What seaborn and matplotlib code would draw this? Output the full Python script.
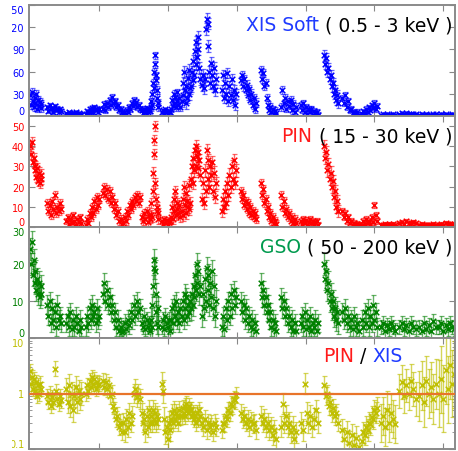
import numpy as np
import pandas as pd
import matplotlib
matplotlib.use("Agg")
import matplotlib.pyplot as plt
import seaborn as sns
from matplotlib.patches import Rectangle

# observation windows (time, arbitrary units)
seg_start = [0.00, 0.24, 0.52, 0.81, 1.05, 1.35, 1.62, 1.75, 1.91, 2.05, 2.20, 2.34, 2.49,
             2.78, 3.06, 3.35, 3.64, 3.93, 4.27, 4.53, 4.82, 5.09, 5.36, 5.65, 5.94]
seg_end = [0.16, 0.45, 0.74, 1.00, 1.33, 1.59, 1.74, 1.86, 2.03, 2.17, 2.32, 2.46, 2.70,
           2.99, 3.28, 3.57, 3.86, 4.18, 4.47, 4.77, 5.04, 5.30, 5.60, 5.89, 6.16]

# XIS soft (0.5 - 3 keV) count rate per window
xis_rate = [
    [28, 15, 33, 20, 12, 25, 18, 30, 10, 22, 14, 19, 11, 16],
    [12, 7, 15, 9, 11, 6, 13, 8, 10, 5, 9, 7],
    [4, 2, 5, 3, 4, 1.5, 3.5, 5, 2.5, 4, 3, 2],
    [3, 7, 4, 9, 5, 11, 6, 12, 8, 10, 5, 9],
    [10, 16, 8, 18, 12, 22, 15, 26, 18, 20, 12, 15, 8, 10, 6],
    [2, 5, 3, 8, 6, 12, 10, 18, 14, 22, 16, 19, 12, 15, 10],
    [8, 4, 10, 6, 11, 5, 9, 7],
    [12, 20, 15, 30, 45, 38, 60, 82, 70, 55, 48, 35, 25, 18, 12],
    [5, 8, 4, 9, 6, 3, 7, 5],
    [10, 22, 14, 30, 18, 26, 12, 32, 20, 15, 24, 12],
    [20, 45, 28, 60, 35, 18, 40, 25, 52, 30, 62, 38],
    [40, 60, 48, 75, 55, 88, 70, 100, 80, 107, 90, 65, 50],
    [42, 55, 38, 50, 118, 131, 95, 125, 60, 45, 72, 55, 40, 65, 35, 50],
    [35, 55, 25, 45, 30, 58, 20, 40, 28, 50, 22, 35, 15, 30],
    [48, 55, 40, 50, 35, 42, 28, 36, 22, 30, 15, 24, 10, 18],
    [62, 50, 58, 40, 45, 25, 15, 8, 12, 5, 9, 3, 7, 4],
    [12, 35, 18, 25, 10, 20, 14, 22, 8, 16, 6, 12],
    [15, 8, 18, 5, 12, 3, 9, 6, 10, 2, 7, 4, 6, 1.5],
    [82, 70, 78, 60, 65, 50, 55, 40, 45, 30, 35, 22, 28, 18],
    [25, 18, 28, 12, 20, 8, 10, 4, 6, 3, 5, 2],
    [3, 7, 4, 10, 6, 12, 8, 15, 11, 18, 9, 14],
    [1.5, 2.5, 1.2, 2.8, 2, 1.6, 2.4, 1.8],
    [2.5, 3.5, 2.2, 3.8, 3, 2.4, 3.2, 2.6],
    [1.8, 2.6, 1.4, 2.4, 2, 1.6, 2.8, 2.1],
    [1.6, 2.4, 1.3, 2.8, 2.0, 1.5, 2.5, 1.8],
]
xis_err = [5, 3, 1.5, 3, 4, 4, 3, 5, 2, 5, 8, 8, 8, 7, 6, 5, 5, 4, 7, 4, 3, 1, 1, 1, 1]

# PIN (15 - 30 keV)
pin_rate = [
    [40, 36, 42, 32, 34, 28, 30, 25, 29, 23, 27, 22, 26, 24],
    [12, 8, 11, 6, 13, 9, 16, 7, 10, 8, 12, 9],
    [3, 5, 1.5, 4, 2, 6, 3, 1, 4, 2.5, 5, 2],
    [1, 4, 2, 7, 5, 10, 7, 13, 9, 15, 11, 14],
    [17, 20, 16, 19, 14, 18, 12, 15, 9, 12, 6, 8, 3, 4, 1],
    [2, 5, 3, 8, 6, 11, 9, 13, 11, 15, 13, 16, 12, 15],
    [5, 3, 7, 4, 8, 2.5, 6, 4],
    [6, 12, 5, 18, 27, 36, 43, 50, 22, 14, 8, 10, 4, 7],
    [3, 1.5, 4, 2, 3.5, 1, 2.5, 3],
    [5, 10, 4, 14, 8, 18, 6, 12, 9, 7, 11, 5],
    [8, 14, 6, 20, 11, 17, 7, 13, 10, 21, 9, 12],
    [24, 30, 22, 34, 28, 38, 30, 40, 35, 37, 29, 33, 26],
    [14, 22, 12, 28, 18, 38, 24, 33, 20, 30, 26, 32, 18, 27, 15, 22],
    [8, 14, 10, 18, 12, 22, 16, 26, 20, 30, 24, 33, 22, 28],
    [18, 14, 16, 11, 13, 9, 12, 7, 10, 6, 8, 5, 7, 4],
    [22, 16, 19, 12, 14, 8, 10, 5, 7, 3, 5, 2, 3, 1.5],
    [16, 10, 13, 7, 9, 5, 7, 3, 5, 2, 4, 2],
    [3, 1.5, 4, 2, 3.5, 1, 2.5, 4, 2, 3, 1.5, 2.5, 3, 1],
    [40, 34, 37, 28, 31, 24, 27, 20, 23, 15, 18, 10, 13, 8],
    [8, 5, 7, 3, 5, 2, 3, 1, 2, 1, 1.5, 0.8],
    [1, 3, 1.5, 4, 2, 3, 1.5, 5, 2.5, 11, 6, 3],
    [1.2, 0.8, 1.5, 1.0, 1.3, 0.9, 1.4, 1.1],
    [2.0, 2.6, 1.6, 2.8, 2.2, 1.8, 2.5, 2.0],
    [1.0, 1.4, 0.8, 1.2, 1.1, 0.9, 1.3, 1.0],
    [1.1, 1.6, 0.9, 2.0, 1.4, 1.7, 1.2, 1.5],
]
pin_err = [2.5, 2, 1.5, 2, 2, 2, 2, 2.5, 1.5, 2.5, 3, 3, 3, 3, 2, 2, 2, 1.5, 3, 1.5,
           1.5, 1, 1, 1, 1]

# GSO (50 - 200 keV)
gso_rate = [
    [24, 20, 26, 17, 21, 15, 18, 13, 16, 12, 15, 11, 14, 12],
    [9, 6, 10, 4, 8, 5, 7, 3, 9, 5, 6, 4],
    [4, 6, 3, 7, 2.5, 5, 3, 6, 4, 2, 5, 3],
    [3, 6, 4, 8, 5, 9, 6, 7, 4, 8, 5, 6],
    [12, 15, 10, 13, 9, 11, 7, 9, 5, 7, 3, 5, 2, 3, 1.5],
    [2, 4, 2.5, 5, 3.5, 7, 5, 9, 6, 10, 7, 8],
    [4, 3, 6, 2.5, 5, 3, 4, 2],
    [5, 9, 3, 14, 19, 21, 18, 12, 7, 4, 8, 3],
    [3, 5, 2.5, 6, 4, 3, 5, 2],
    [5, 8, 4, 9, 6, 10, 5, 7, 4, 8],
    [6, 10, 5, 12, 8, 11, 6, 9, 7, 10],
    [8, 12, 9, 14, 11, 17, 13, 20, 15, 18, 12, 14],
    [6, 12, 8, 16, 10, 19, 13, 17, 9, 15, 11, 18, 8, 14, 6, 10],
    [3, 6, 2.5, 8, 5, 10, 6, 12, 8, 13, 9, 11],
    [10, 7, 9, 5, 8, 4, 6, 3, 5, 2.5, 4, 2],
    [15, 11, 13, 9, 11, 7, 9, 5, 7, 3, 5, 2.5, 4, 2],
    [11, 8, 10, 6, 8, 4, 6, 3, 5, 2, 4, 2],
    [4, 6, 3, 7, 2.5, 5, 3, 6, 2, 4, 3, 5, 2, 4],
    [20, 16, 18, 13, 15, 10, 12, 8, 10, 6, 8, 5, 7, 4],
    [7, 5, 8, 4, 6, 3, 5, 2.5, 6, 3, 4, 2],
    [5, 3, 7, 4, 8, 3, 6, 4, 9, 5, 7, 3],
    [3, 4, 2, 3.5, 2.5, 4, 3, 2],
    [3, 4, 2.5, 3.5, 2, 4, 3, 2.5],
    [3, 2, 4, 2.5, 3.5, 2, 4.5, 3],
    [3, 4, 2, 3.5, 2.5, 4, 3, 2.5],
]
gso_err = [3, 2.5, 2.5, 2.5, 2.5, 2.5, 2, 3, 2, 2.5, 2.5, 3, 3, 2.5, 2.5, 2.5, 2.5, 2.5,
           3, 2.5, 2.5, 2, 2, 2, 2]

# PIN / XIS hardness ratio
ratio = [
    [2.5, 1.5, 2.0, 1.2, 1.8, 1.1, 1.6, 0.9, 1.4, 1.0, 1.5, 1.2],
    [0.9, 0.7, 1.0, 0.6, 0.85, 0.7, 2.8, 1.1, 0.8, 0.65, 0.9, 0.75],
    [1.2, 0.7, 1.4, 0.6, 1.0, 0.5, 0.9, 1.3, 0.7, 1.1, 0.8, 1.0],
    [1.0, 1.4, 1.1, 1.7, 1.3, 2.0, 1.5, 1.8, 1.2, 1.6, 1.4, 1.5],
    [1.7, 1.3, 1.6, 1.2, 1.4, 0.9, 1.0, 0.6, 0.5, 0.35, 0.4, 0.25, 0.3, 0.2],
    [0.3, 0.2, 0.35, 0.25, 0.45, 0.3, 0.4, 1.0, 1.2, 0.85, 1.0, 0.8],
    [0.45, 0.3, 0.35, 0.2, 0.4, 0.25, 0.5, 0.3],
    [0.4, 0.3, 0.5, 0.35, 0.45, 0.3, 0.4, 0.35],
    [1.5, 1.1, 0.35, 0.2, 0.25, 0.15, 0.3, 0.22],
    [0.35, 0.45, 0.3, 0.5, 0.35, 0.45, 0.4, 0.3, 0.5, 0.4],
    [0.4, 0.55, 0.45, 0.6, 0.4, 0.65, 0.5, 0.45, 0.6, 0.5],
    [0.5, 0.4, 0.45, 0.35, 0.4, 0.3, 0.45, 0.35, 0.5, 0.4],
    [0.3, 0.25, 0.35, 0.22, 0.3, 0.25, 0.28, 0.2, 0.3, 0.25],
    [0.22, 0.3, 0.28, 0.4, 0.35, 0.5, 0.45, 0.65, 0.6, 0.8, 0.75, 0.95],
    [0.45, 0.35, 0.4, 0.3, 0.35, 0.25, 0.32, 0.28, 0.3, 0.22],
    [0.4, 0.3, 0.35, 0.25, 0.3, 0.22, 0.25, 0.18, 0.22, 0.15],
    [0.25, 0.65, 0.3, 0.4, 0.25, 0.3, 0.2, 0.25, 0.15, 0.2],
    [0.3, 0.22, 1.5, 0.45, 0.3, 0.4, 0.25, 0.35, 0.5, 0.3],
    [1.4, 0.9, 1.0, 0.6, 0.7, 0.45, 0.55, 0.4, 0.45, 0.3],
    [0.22, 0.15, 0.2, 0.13, 0.18, 0.12, 0.16, 0.11],
    [0.14, 0.2, 0.18, 0.25, 0.22, 0.3, 0.28, 0.38, 0.35, 0.5, 0.45, 0.55],
    [0.3, 0.4, 0.25, 0.5, 0.3, 0.45, 0.35, 0.28],
    [1.1, 1.6, 0.9, 1.4, 1.0, 1.7, 1.2, 0.8],
    [0.9, 1.4, 0.7, 1.7, 1.0, 1.3, 0.8, 1.5],
    [1.0, 1.8, 0.8, 2.6, 1.2, 3.2, 1.5, 2.2],
]
ratio_frac_err = [0.35, 0.35, 0.6, 0.35, 0.4, 0.5, 0.5, 0.5, 0.6, 0.45, 0.4, 0.4, 0.45,
                  0.4, 0.45, 0.5, 0.55, 0.55, 0.45, 0.6, 0.55, 1.2, 1.0, 1.8, 3.0]


def build_frame(values, errs):
    rows = []
    for s, e, vals, err in zip(seg_start, seg_end, values, errs):
        for t, v in zip(np.linspace(s, e, len(vals)), vals):
            rows.append((t, v, err))
    return pd.DataFrame(rows, columns=["time", "rate", "err"])


sns.set_style("ticks")
plt.rcParams["font.family"] = ["DejaVu Sans"]

W, H = 458, 452
fig = plt.figure(figsize=(W / 100, H / 100), dpi=100)

left, right = 29 / W, 455 / W
tops = [6, 117, 228, 339]
ph = 111

panels = [
    ("XIS Soft", " ( 0.5 - 3 keV )", "#1f3bff", "blue", xis_rate, xis_err,
     (0, 150), [0, 30, 60, 90, 120, 150]),
    ("PIN", " ( 15 - 30 keV )", "#ff1a1a", "red", pin_rate, pin_err,
     (0, 55), [0, 10, 20, 30, 40, 50]),
    ("GSO", " ( 50 - 200 keV )", "#009a4e", "green", gso_rate, gso_err,
     (0, 30), [0, 10, 20, 30]),
]

axes = []
for i, top in enumerate(tops):
    ax = fig.add_axes([left, 1 - (top + ph) / H, right - left, ph / H])
    axes.append(ax)

for ax, (name, band, tcol, col, vals, errs, ylim, yt) in zip(axes[:3], panels):
    df = build_frame(vals, errs)
    ax.errorbar(df["time"], df["rate"], yerr=df["err"], fmt="none", ecolor=col,
                alpha=0.6, elinewidth=1.0, capsize=1.8, capthick=0.9)
    sns.scatterplot(data=df, x="time", y="rate", marker="x", color=col, s=16,
                    linewidth=1.1, ax=ax, legend=False)
    ax.set_ylim(*ylim)
    ax.set_yticks(yt)
    ax.set_yticklabels([str(v) for v in yt])
    ax.tick_params(axis="y", colors="#888888", labelcolor=col)
    t1 = ax.text(0.993, 0.82, band, transform=ax.transAxes, ha="right", va="center",
                 fontsize=13.5, color="black")
    ax.annotate(name, xy=(0, 0.5), xycoords=t1, ha="right", va="center",
                fontsize=13.5, color=tcol)

# hardness ratio panel
ax = axes[3]
df = build_frame(ratio, ratio_frac_err)
lo = df["rate"] * df["err"] / (1 + df["err"])
hi = df["rate"] * df["err"]
ycol = "#bfbf00"
ax.errorbar(df["time"], df["rate"], yerr=[lo, hi], fmt="none", ecolor=ycol,
            alpha=0.65, elinewidth=1.0, capsize=1.8, capthick=0.9)
sns.scatterplot(data=df, x="time", y="rate", marker="x", color=ycol, s=16,
                linewidth=1.1, ax=ax, legend=False)
ax.axhline(1, color="#e8742a", lw=1.6, zorder=5)
ax.set_yscale("log")
ax.set_ylim(0.1, 10)
ax.set_yticks([0.1, 1, 10])
ax.set_yticklabels(["0.1", "1", "10"])
ax.tick_params(axis="y", which="both", colors="#888888", labelcolor=ycol)
r1 = ax.text(0.69, 0.84, "PIN", transform=ax.transAxes, ha="left", va="center",
             fontsize=13.5, color="#ff1a1a")
r2 = ax.annotate(" / ", xy=(1, 0.5), xycoords=r1, ha="left", va="center",
                 fontsize=13.5, color="black")
ax.annotate("XIS", xy=(1, 0.5), xycoords=r2, ha="left", va="center",
            fontsize=13.5, color="#1f3bff")

for ax in axes:
    ax.set_xlim(-0.02, 6.17)
    ax.set_xticks([1, 2, 3, 4, 5, 6])
    ax.set_xlabel("")
    ax.set_ylabel("")
    ax.tick_params(axis="both", which="both", direction="in", top=True, right=True,
                   labelbottom=False, labelsize=7, pad=3.5, color="#888888")
    ax.tick_params(which="major", length=4, width=0.8)
    ax.tick_params(which="minor", length=2, width=0.6)
    for sp in ax.spines.values():
        sp.set_color("#8a8a8a")
        sp.set_linewidth(1.4)
    # keep the end labels inside the panel
    ticks = ax.yaxis.get_major_ticks()
    ylo, yhi = ax.get_ylim()
    locs = ax.get_yticks()
    for tk, loc in zip(ticks, locs):
        if np.isclose(loc, ylo):
            tk.label1.set_va("bottom")
        elif np.isclose(loc, yhi):
            tk.label1.set_va("top")

# the left margin of the original picture is cut off
fig.add_artist(Rectangle((0, 0), 12 / W, 1, transform=fig.transFigure,
                         facecolor="white", edgecolor="none", zorder=10))

fig.savefig("out.png", dpi=100)
